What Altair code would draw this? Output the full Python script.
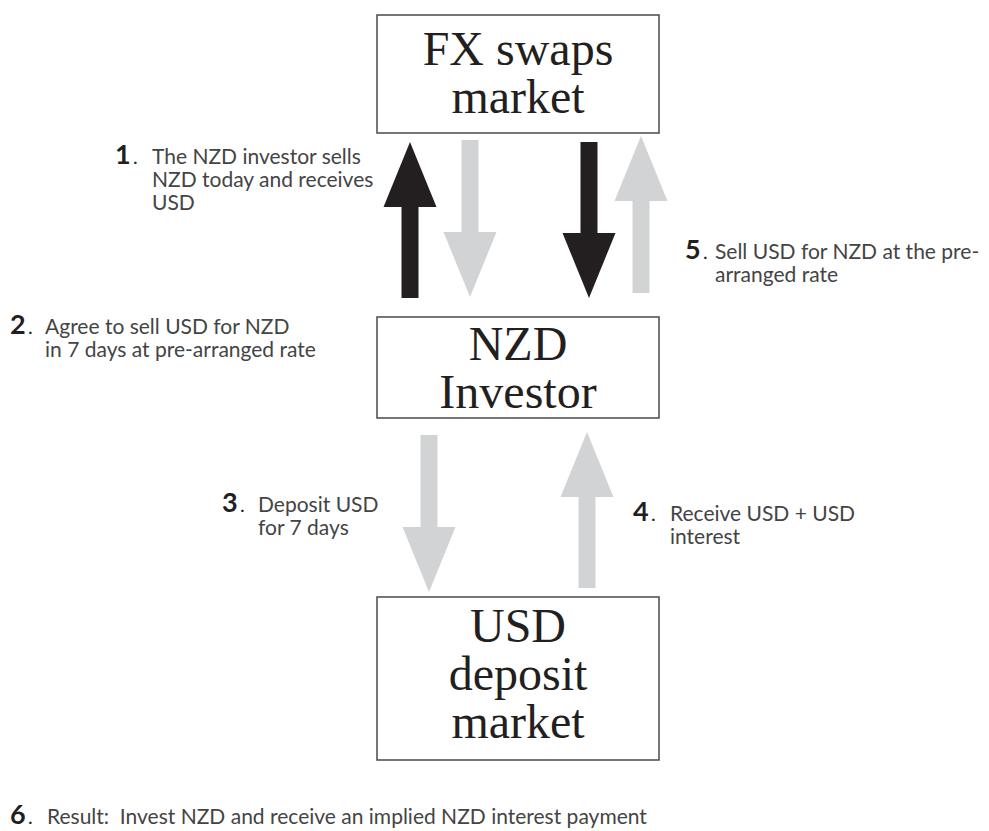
import altair as alt
import pandas as pd

# ---------------- data ----------------
box_names = ["fx", "nzd", "usd"]
box_x0 = [377, 377, 377]
box_x1 = [659, 659, 659]
box_y0 = [15, 317, 597]
box_y1 = [133, 418, 760]

box_lines = ["FX swaps", "market", "NZD", "Investor", "USD", "deposit", "market"]
box_line_y = [65, 113, 360, 408, 642, 690, 738]

arrow_cx = [410, 470, 589, 641, 429, 587]
arrow_top = [142, 140, 142, 136, 435, 432]
arrow_bot = [298, 297, 298, 293, 592, 588]
arrow_dir = ["up", "down", "down", "up", "down", "up"]
arrow_col = ["black", "grey", "black", "grey", "grey", "grey"]

step_num = ["1", "2", "3", "4", "5", "6"]
step_num_x = [115, 10, 222, 633, 685, 10]
step_text_x = [152, 45, 258, 670, 715, 47]
step_y = [164, 334, 512, 521, 259, 824]
step_lines = [
    ["The NZD investor sells", "NZD today and receives", "USD"],
    ["Agree to sell USD for NZD", "in 7 days at pre-arranged rate"],
    ["Deposit USD", "for 7 days"],
    ["Receive USD + USD", "interest"],
    ["Sell USD for NZD at the pre-", "arranged rate"],
    ["Result:\u00a0 Invest NZD and receive an implied NZD interest payment"],
]

# ---------------- tables ----------------
HEAD_L, HEAD_W, SHAFT_W = 65, 53, 17
LINE_H = 23

boxes = pd.DataFrame({"name": box_names, "x0": box_x0, "x1": box_x1, "y0": box_y0, "y1": box_y1})
btext = pd.DataFrame({"t": box_lines, "x": [518] * len(box_lines), "y": box_line_y})

arr = pd.DataFrame({"cx": arrow_cx, "top": arrow_top, "bot": arrow_bot, "dir": arrow_dir, "col": arrow_col})
arr["sx0"] = arr.cx - SHAFT_W / 2
arr["sx1"] = arr.cx + SHAFT_W / 2
arr["sy0"] = arr.apply(lambda r: r.top + HEAD_L - 3 if r.dir == "up" else r.top, axis=1)
arr["sy1"] = arr.apply(lambda r: r.bot if r.dir == "up" else r.bot - HEAD_L + 3, axis=1)
arr["hy"] = arr.apply(lambda r: r.top + HEAD_L / 2 if r.dir == "up" else r.bot - HEAD_L / 2, axis=1)

nums = pd.DataFrame({"n": step_num, "x": step_num_x, "y": step_y})
dots = pd.DataFrame({"x": [a + 18 for a in step_num_x], "y": step_y})
rows = []
for i, lines in enumerate(step_lines):
    for j, ln in enumerate(lines):
        rows.append({"t": ln, "x": step_text_x[i], "y": step_y[i] + j * LINE_H})
stext = pd.DataFrame(rows)

# ---------------- scales ----------------
W, H = 973, 823
xs = alt.Scale(domain=[8, 8 + W], nice=False, zero=False)
ys = alt.Scale(domain=[8, 8 + H], nice=False, zero=False, reverse=True)
colscale = alt.Scale(domain=["black", "grey"], range=["#231f20", "#d1d3d4"])

def X(f):
    return alt.X(f, type="quantitative", scale=xs, axis=None)

def Y(f):
    return alt.Y(f, type="quantitative", scale=ys, axis=None)

box_layer = alt.Chart(boxes).mark_rect(fill="white", stroke="#4a4a4a", strokeWidth=1.5).encode(
    x=X("x0"), x2="x1", y=Y("y0"), y2="y1")

box_text = alt.Chart(btext).mark_text(font="Liberation Serif", fontSize=48, color="#231f20",
                                      align="center", baseline="alphabetic").encode(
    x=X("x"), y=Y("y"), text="t:N")

shafts = alt.Chart(arr).mark_rect().encode(
    x=X("sx0"), x2="sx1", y=Y("sy0"), y2="sy1",
    color=alt.Color("col:N", scale=colscale, legend=None))

k = HEAD_W / HEAD_L
up_path = f"M0,-1L{k:.3f},1L{-k:.3f},1Z"
down_path = f"M0,1L{k:.3f},-1L{-k:.3f},-1Z"
heads = alt.Chart(arr).mark_point(filled=True, opacity=1, strokeWidth=0, size=HEAD_L * HEAD_L).encode(
    x=X("cx"), y=Y("hy"),
    shape=alt.Shape("dir:N", scale=alt.Scale(domain=["up", "down"], range=[up_path, down_path]), legend=None),
    color=alt.Color("col:N", scale=colscale, legend=None))

num_layer = alt.Chart(nums).mark_text(font="Lato", fontWeight="bold", fontSize=27, color="#231f20",
                                      align="left", baseline="alphabetic").encode(
    x=X("x"), y=Y("y"), text="n:N")
dot_layer = alt.Chart(dots).mark_text(font="Lato", fontSize=20, color="#231f20",
                                      align="left", baseline="alphabetic", text=".").encode(
    x=X("x"), y=Y("y"))
text_layer = alt.Chart(stext).mark_text(font="Lato", fontWeight="normal", fontSize=21, color="#444444",
                                        align="left", baseline="alphabetic").encode(
    x=X("x"), y=Y("y"), text="t:N")

chart = alt.layer(box_layer, box_text, shafts, heads, num_layer, dot_layer, text_layer).properties(
    width=W, height=H, padding=0, autosize=alt.AutoSizeParams(type="none")
).configure_view(stroke=None)

chart.save("out.html", embed_options={"renderer": "svg", "actions": False})
